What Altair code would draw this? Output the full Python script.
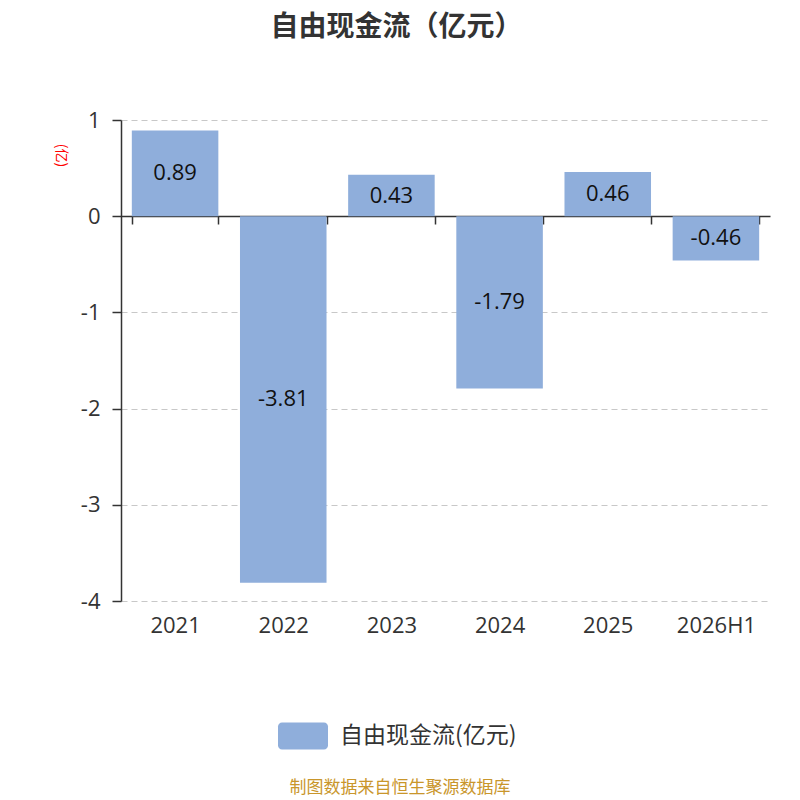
import altair as alt
import pandas as pd

categories = ["2021", "2022", "2023", "2024", "2025", "2026H1"]
values = [0.89, -3.81, 0.43, -1.79, 0.46, -0.46]
labels = ["0.89", "-3.81", "0.43", "-1.79", "0.46", "-0.46"]
series_name = "自由现金流(亿元)"
y_ticks = [-4, -3, -2, -1, 0, 1]

df = pd.DataFrame({
    "cat": categories,
    "val": values,
    "mid": [v / 2 for v in values],
    "lab": labels,
    "series": [series_name] * len(categories),
})

FONT = "Noto Sans CJK SC"
NUMFONT = "Open Sans"
BAR = "#8FAEDB"
W, H = 649, 481

rr = ("M-0.84,-0.54 L0.84,-0.54 A0.16,0.16 0 0 1 1,-0.38 L1,0.38 "
      "A0.16,0.16 0 0 1 0.84,0.54 L-0.84,0.54 A0.16,0.16 0 0 1 -1,0.38 "
      "L-1,-0.38 A0.16,0.16 0 0 1 -0.84,-0.54 Z")

x_enc = alt.X(
    "cat:N", sort=categories,
    scale=alt.Scale(paddingInner=0.2, paddingOuter=0.1),
    axis=alt.Axis(
        title=None, orient="bottom", offset=-385, labelAngle=0,
        tickBand="extent", tickSize=8, tickColor="#333", tickWidth=1.5,
        domainColor="#333", domainWidth=1.5,
        labelFontSize=22, labelColor="#333", labelPadding=391,
        labelFont=NUMFONT,
    ),
)

y_scale = alt.Scale(domain=[-4, 1], nice=False)

bars = alt.Chart(df).mark_bar().encode(
    x=x_enc,
    y=alt.Y(
        "val:Q", scale=y_scale,
        axis=alt.Axis(
            values=y_ticks, labelExpr="'' + datum.value",
            title="(亿)", titleColor="red", titleFontSize=14,
            titleFontWeight="normal", titleAngle=90, titleX=-61, titleY=35,
            titleAlign="center", titleBaseline="middle", titleFont=FONT,
            labelFontSize=22, labelColor="#333", labelPadding=12,
            labelFont=NUMFONT,
            tickSize=9, tickColor="#333", tickWidth=1.5,
            domainColor="#333", domainWidth=1.5,
            grid=True, gridDash=[6, 4], gridColor="#c8c8c8", gridWidth=1.2,
        ),
    ),
    y2=alt.datum(0),
    color=alt.Color(
        "series:N",
        scale=alt.Scale(range=[BAR]),
        legend=alt.Legend(
            title=None, orient="none", legendX=157, legendY=591,
            symbolType=rr, symbolSize=2500, symbolStrokeWidth=0,
            symbolOpacity=1, labelFontSize=23, labelColor="#333",
            labelFont=FONT, labelOffset=12, padding=0, labelLimit=400,
        ),
    ),
)

text = alt.Chart(df).mark_text(fontSize=22, color="#111", font=NUMFONT).encode(
    x=alt.X("cat:N", sort=categories),
    y=alt.Y("mid:Q", scale=y_scale),
    text="lab:N",
)

footer = alt.Chart(pd.DataFrame({"t": ["制图数据来自恒生聚源数据库"]})).mark_text(
    fontSize=17, color="#C9962B", font=FONT
).encode(
    x=alt.value(279), y=alt.value(668), text="t:N"
)

chart = alt.layer(bars, text, footer).properties(
    width=W, height=H,
    title=alt.TitleParams(
        "自由现金流（亿元）", fontSize=28, fontWeight="bold", color="#333",
        font=FONT, anchor="middle", dx=-49, offset=67,
    ),
    autosize=alt.AutoSizeParams(type="none"),
    padding={"left": 113, "top": 112, "right": 22, "bottom": 196},
).configure_view(stroke=None)

chart.save("out.html", embed_options={"renderer": "svg", "actions": False})
